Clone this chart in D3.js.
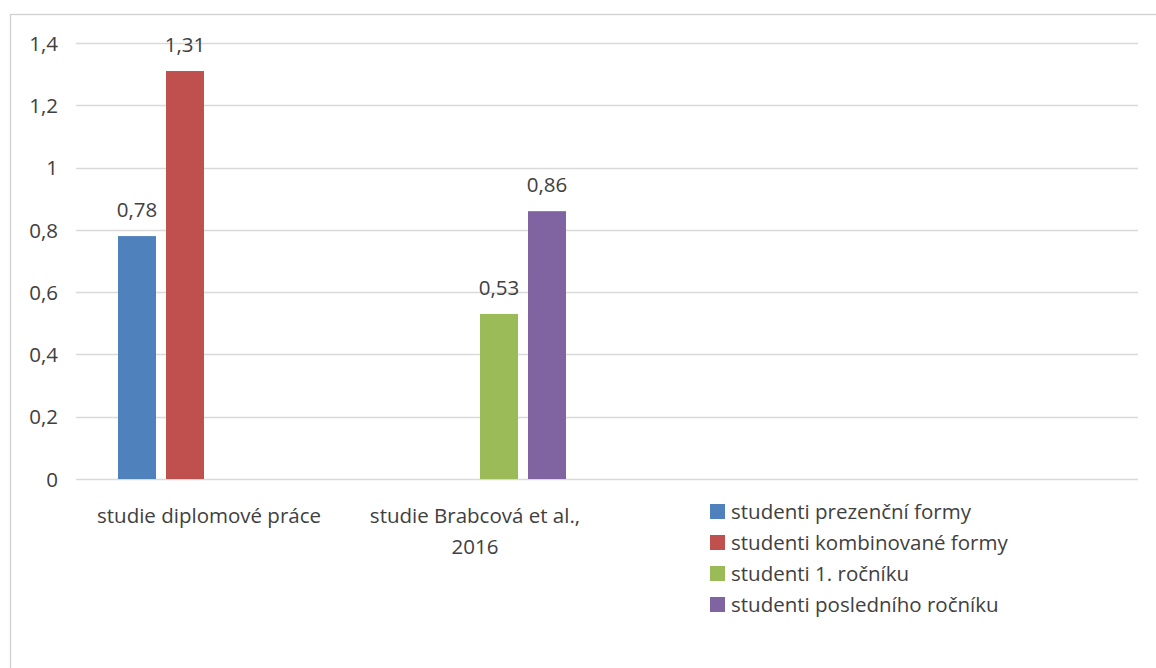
<!DOCTYPE html>
<html>
<head>
<meta charset="utf-8">
<script src="https://cdn.jsdelivr.net/npm/d3@7"></script>
<style>
  html, body { margin: 0; padding: 0; background: #fff; }
  svg text { font-family: "Open Sans", sans-serif; fill: #404040; }
</style>
</head>
<body>
<svg id="chart" width="1156" height="668"></svg>
<script>
// Category labels (the last two slots are left blank; the legend sits there)
const categories = [["studie diplomové práce"], ["studie Brabcová et al.,", "2016"], [""], [""]];
const seriesNames = ["studenti prezenční formy", "studenti kombinované formy", "studenti 1. ročníku", "studenti posledního ročníku"];
const seriesColors = ["#4f81bd", "#c0504d", "#9bbb59", "#8064a2"];
// Values per category for each series (null = no bar)
const prezencni = [0.78, null, null, null];
const kombinovane = [1.31, null, null, null];
const rocnik1 = [null, 0.53, null, null];
const posledni = [null, 0.86, null, null];
const yTicks = [0, 0.2, 0.4, 0.6, 0.8, 1, 1.2, 1.4];

const seriesValues = [prezencni, kombinovane, rocnik1, posledni];

const svg = d3.select("#chart");
const plot = { left: 76, right: 1138, top: 43, bottom: 479 };
const FS = "20.5px";

// Chart frame
svg.append("rect")
  .attr("x", 10.5).attr("y", 14.5)
  .attr("width", 1160).attr("height", 700)
  .attr("fill", "none").attr("stroke", "#d0d0d0").attr("stroke-width", 1.3);

const y = d3.scaleLinear().domain([0, 1.4]).range([plot.bottom, plot.top]);
const x0 = d3.scaleBand().domain(d3.range(categories.length)).range([plot.left, plot.right + 2]);
const x1 = d3.scaleBand().domain(d3.range(seriesNames.length))
  .range([0, x0.bandwidth()]).paddingInner(10 / 48).paddingOuter(0.875);

const fmt = v => String(v).replace(".", ",");

// Gridlines
svg.append("g").selectAll("line").data(yTicks).join("line")
  .attr("x1", plot.left).attr("x2", plot.right)
  .attr("y1", d => Math.round(y(d)) + 0.5).attr("y2", d => Math.round(y(d)) + 0.5)
  .attr("stroke", "#d9d9d9").attr("stroke-width", 1.3);

// Y axis labels
const yAxis = d3.axisLeft(y).tickValues(yTicks).tickFormat(fmt).tickSize(0).tickPadding(0);
const yg = svg.append("g").attr("transform", `translate(58,0)`).call(yAxis);
yg.select(".domain").remove();
yg.selectAll("text").style("font-size", FS).attr("fill", "#404040")
  .style("font-family", "'Open Sans', sans-serif").attr("dy", "0.35em");

// Bars
const bars = [];
seriesValues.forEach((vals, s) => vals.forEach((v, c) => {
  if (v !== null) bars.push({ s, c, v });
}));

svg.append("g").selectAll("rect").data(bars).join("rect")
  .attr("x", d => x0(d.c) + x1(d.s))
  .attr("width", x1.bandwidth())
  .attr("y", d => y(d.v))
  .attr("height", d => y(0) - y(d.v))
  .attr("fill", d => seriesColors[d.s]);

// Value labels
svg.append("g").selectAll("text").data(bars).join("text")
  .attr("x", d => x0(d.c) + x1(d.s) + x1.bandwidth() / 2)
  .attr("y", d => y(d.v) - 19)
  .attr("text-anchor", "middle")
  .style("font-size", FS)
  .text(d => fmt(d.v));

// Category labels
const cg = svg.append("g");
categories.forEach((lines, c) => {
  const t = cg.append("text")
    .attr("x", x0(c) + x0.bandwidth() / 2)
    .attr("y", 523)
    .attr("text-anchor", "middle")
    .style("font-size", FS);
  lines.forEach((ln, i) => {
    t.append("tspan").attr("x", x0(c) + x0.bandwidth() / 2)
      .attr("dy", i === 0 ? 0 : 31).text(ln);
  });
});

// Legend
const lg = svg.append("g").attr("transform", "translate(710,504)");
const items = lg.selectAll("g").data(seriesNames).join("g")
  .attr("transform", (d, i) => `translate(0,${i * 31})`);
items.append("rect").attr("width", 15).attr("height", 15)
  .attr("fill", (d, i) => seriesColors[i]);
items.append("text").attr("x", 21).attr("y", 14.5)
  .style("font-size", FS).text(d => d);
</script>
</body>
</html>
